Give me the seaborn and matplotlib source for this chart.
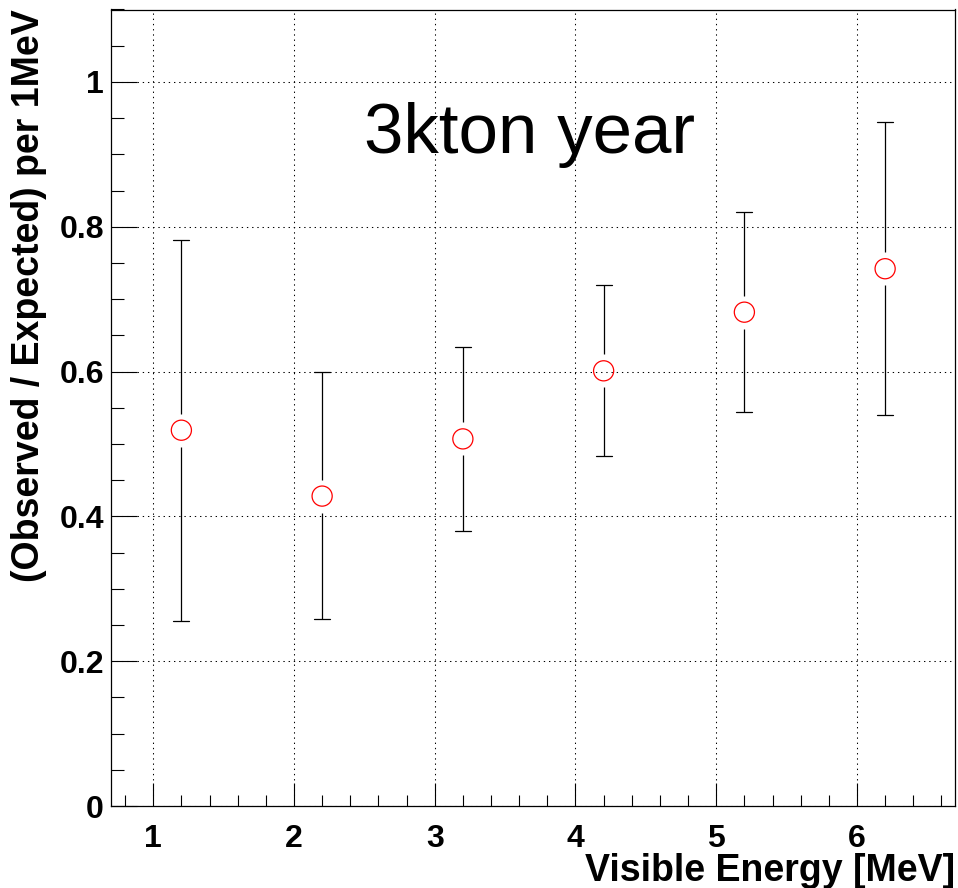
import numpy as np
import pandas as pd
import matplotlib
matplotlib.use("Agg")
import matplotlib.pyplot as plt
import seaborn as sns
from matplotlib.ticker import MultipleLocator, FixedLocator

# ---- data ----
energy = [1.2, 2.2, 3.2, 4.2, 5.2, 6.2]
ratio = [0.519, 0.428, 0.507, 0.601, 0.682, 0.742]
err_high = [0.781, 0.600, 0.634, 0.719, 0.820, 0.944]
err_low = [0.256, 0.258, 0.380, 0.484, 0.544, 0.540]
yticks = [0, 0.2, 0.4, 0.6, 0.8, 1.0]
ytick_labels = ["0", "0.2", "0.4", "0.6", "0.8", "1"]
xticks = [1, 2, 3, 4, 5, 6]
xtick_labels = ["1", "2", "3", "4", "5", "6"]
title_text = "3kton year"
xlabel = "Visible Energy [MeV]"
ylabel = "(Observed / Expected) per 1MeV"

df = pd.DataFrame({"energy": energy, "ratio": ratio,
                   "hi": err_high, "lo": err_low})

sns.set_theme(style="white")
plt.rcParams['font.family'] = ['Liberation Sans', 'DejaVu Sans']

W, H, DPI = 958, 888, 100
fig = plt.figure(figsize=(W / DPI, H / DPI), dpi=DPI)
ax = fig.add_axes([111 / W, 1 - 806 / H, (955.5 - 111) / W, (806 - 9.5) / H])
ax.set_xlim(0.7, 6.7)
ax.set_ylim(0, 1.1)

# grid (dotted)
ax.set_axisbelow(True)
ax.grid(True, which="major", color="black", linewidth=0.75,
        linestyle=(0, (1.3, 3.7)))

# error bars with a gap around the marker (ROOT style)
px_per_unit = (806 - 9.5) / 1.1
gap = 16.5 / px_per_unit
cap_half = 8 / ((955.5 - 111) / 6.0)
for _, r in df.iterrows():
    ax.plot([r.energy, r.energy], [r.lo, r.ratio - gap], color="black", lw=0.9,
            solid_capstyle="butt", zorder=3)
    ax.plot([r.energy, r.energy], [r.ratio + gap, r.hi], color="black", lw=0.9,
            solid_capstyle="butt", zorder=3)
    ax.plot([r.energy - cap_half, r.energy + cap_half], [r.hi, r.hi],
            color="black", lw=0.9, zorder=3)
    ax.plot([r.energy - cap_half, r.energy + cap_half], [r.lo, r.lo],
            color="black", lw=0.9, zorder=3)

sns.scatterplot(data=df, x="energy", y="ratio", ax=ax, marker="o",
                s=210, facecolor="none", edgecolor="#ff0000", linewidth=0.9,
                zorder=4, legend=False)

# ticks
ax.xaxis.set_major_locator(FixedLocator(xticks))
ax.xaxis.set_minor_locator(MultipleLocator(0.2))
ax.yaxis.set_major_locator(FixedLocator(yticks))
ax.yaxis.set_minor_locator(MultipleLocator(0.05))
ax.set_xticklabels(xtick_labels)
ax.set_yticklabels(ytick_labels)
ax.tick_params(axis="x", which="major", direction="in", length=16.5, width=0.8,
               color="black", pad=13, labelsize=23, top=False, bottom=True)
ax.tick_params(axis="x", which="minor", direction="in", length=8, width=0.8,
               color="black", top=False, bottom=True)
ax.tick_params(axis="y", which="major", direction="in", length=18.7, width=0.8,
               color="black", pad=5, labelsize=23, left=True, right=False)
ax.tick_params(axis="y", which="minor", direction="in", length=9.4, width=0.8,
               color="black", left=True, right=False)
for lab in ax.get_xticklabels() + ax.get_yticklabels():
    lab.set_fontweight("bold")
    lab.set_color("black")

for s in ax.spines.values():
    s.set_visible(True)
    s.set_color("black")
    s.set_linewidth(0.9)

ax.set_xlabel("")
ax.set_ylabel("")

fig.text(530 / W, 1 - 153 / H, title_text, ha="center", va="baseline",
         fontsize=51, color="black")
fig.text(955 / W, 1 - 881 / H, xlabel, ha="right", va="baseline",
         fontsize=27, fontweight="bold", color="black")
fig.text(29 / W, 1 - 9.5 / H, ylabel, ha="center", va="top", rotation=90,
         fontsize=27, fontweight="bold", color="black")

fig.savefig("out.png", dpi=DPI, facecolor="white")
